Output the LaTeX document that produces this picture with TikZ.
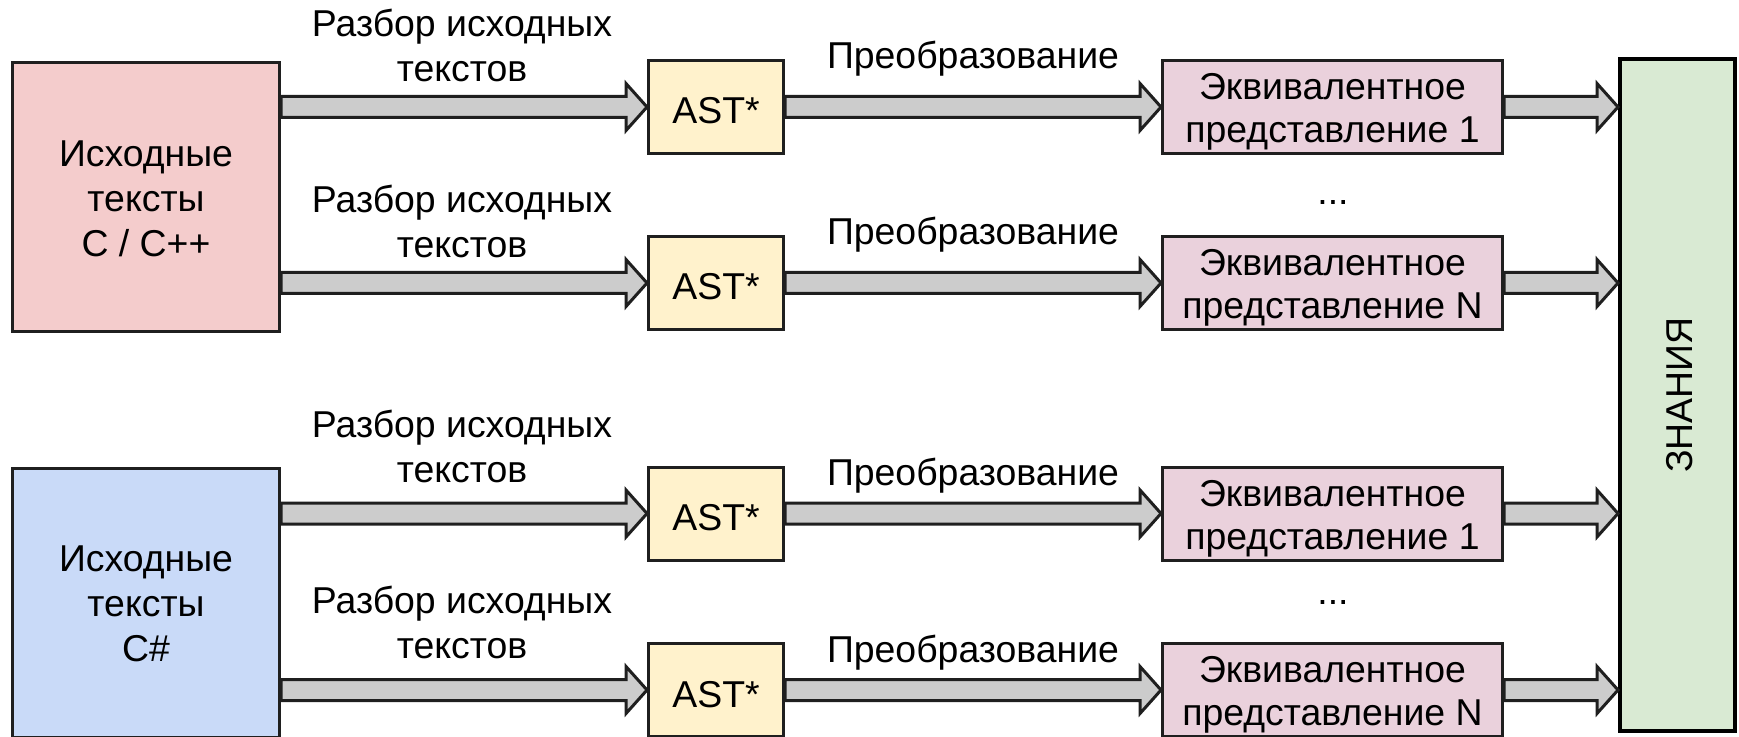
\documentclass[tikz,border=0pt]{standalone}
\usepackage{fontspec}
\setmainfont{Liberation Sans}
\usetikzlibrary{calc}

\definecolor{srcred}{HTML}{F4CCCC}
\definecolor{srcblue}{HTML}{C9DAF8}
\definecolor{astyellow}{HTML}{FFF2CC}
\definecolor{eqpink}{HTML}{EAD1DC}
\definecolor{knowgreen}{HTML}{D9EAD3}
\definecolor{shaftgray}{HTML}{CCCCCC}
\definecolor{edge}{HTML}{1F1F1F}

% block arrow from the east side of #1 to the point #2 (tip), at the height of #2
\newcommand\blockarrow[2]{%
  \path[flow] let \p1=(#1), \p2=(#2) in
    (\x1,\y2+5.25pt) -- (\x2-10.5pt,\y2+5.25pt) -- (\x2-10.5pt,\y2+11.75pt)
    -- (\x2,\y2) -- (\x2-10.5pt,\y2-11.75pt) -- (\x2-10.5pt,\y2-5.25pt)
    -- (\x1,\y2-5.25pt) -- cycle;}

\begin{document}
\begin{tikzpicture}[x=0.5pt,y=-0.5pt,
  every node/.style={font=\fontsize{18.7}{22.5}\selectfont, inner sep=0pt},
  box/.style={draw=edge, line width=1.5pt},
  srcbox/.style={box, minimum width=133.5pt, minimum height=134.5pt},
  astbox/.style={box, fill=astyellow, minimum width=67.5pt, minimum height=46.5pt},
  eqbox/.style={box, fill=eqpink, minimum width=170pt, minimum height=46.5pt},
  kbox/.style={draw=black, line width=2pt, fill=knowgreen,
               minimum width=57.5pt, minimum height=336pt},
  flow/.style={draw=edge, fill=shaftgray, line width=1.5pt, line join=miter},
  lbl/.style={align=center, anchor=base},
  asttxt/.style={anchor=base, yshift=-8.5pt},
  eqtxt/.style={align=center, anchor=base, yshift=-17.75pt,
                font=\fontsize{18.7}{21.35}\selectfont}]

\useasboundingbox (0,0) rectangle (1739,737);

% sources
\node[srcbox, fill=srcred]  (srcC)  at (146,197) {};
\node[srcbox, fill=srcblue] (srcCS) at (146,603) {};
\node[lbl] (srcCtxt)  at (146,256.7) {Исходные\\тексты\\C / C++};
\node[lbl] (srcCStxt) at (146,661.7) {Исходные\\тексты\\C\#};

% abstract syntax trees
\node[astbox] (ast1) at (716,107)   {};
\node[astbox] (ast2) at (716,283)   {};
\node[astbox] (ast3) at (716,513.5) {};
\node[astbox] (ast4) at (716,690)   {};
\node[asttxt] (ast1t) at (ast1.center) {AST*};
\node[asttxt] (ast2t) at (ast2.center) {AST*};
\node[asttxt] (ast3t) at (ast3.center) {AST*};
\node[asttxt] (ast4t) at (ast4.center) {AST*};

% equivalent representations
\node[eqbox] (eq1) at (1332.5,107)   {};
\node[eqbox] (eq2) at (1332.5,283)   {};
\node[eqbox] (eq3) at (1332.5,513.5) {};
\node[eqbox] (eq4) at (1332.5,690)   {};
\node[eqtxt] (eq1t) at (eq1.center) {Эквивалентное\\представление 1};
\node[eqtxt] (eq2t) at (eq2.center) {Эквивалентное\\представление N};
\node[eqtxt] (eq3t) at (eq3.center) {Эквивалентное\\представление 1};
\node[eqtxt] (eq4t) at (eq4.center) {Эквивалентное\\представление N};

% knowledge
\node[kbox] (know) at (1677.5,395) {};
\node[rotate=90] (knowlbl) at ([xshift=1pt]know.center) {ЗНАНИЯ};

% parsing arrows
\blockarrow{srcC.east}{ast1.west}
\blockarrow{srcC.east}{ast2.west}
\blockarrow{srcCS.east}{ast3.west}
\blockarrow{srcCS.east}{ast4.west}

% transformation arrows
\blockarrow{ast1.east}{eq1.west}
\blockarrow{ast2.east}{eq2.west}
\blockarrow{ast3.east}{eq3.west}
\blockarrow{ast4.east}{eq4.west}

% into knowledge
\blockarrow{eq1.east}{know.west |- eq1.east}
\blockarrow{eq2.east}{know.west |- eq2.east}
\blockarrow{eq3.east}{know.west |- eq3.east}
\blockarrow{eq4.east}{know.west |- eq4.east}

% labels (base = baseline of the last line)
\node[lbl] (parse1) at (462,82)  {Разбор исходных\\текстов};
\node[lbl] (parse2) at (462,258) {Разбор исходных\\текстов};
\node[lbl] (parse3) at (462,482) {Разбор исходных\\текстов};
\node[lbl] (parse4) at (462,658) {Разбор исходных\\текстов};

\node[lbl] (conv1) at (973,69)  {Преобразование};
\node[lbl] (conv2) at (973,245) {Преобразование};
\node[lbl] (conv3) at (973,485) {Преобразование};
\node[lbl] (conv4) at (973,662) {Преобразование};

\node[lbl] (dots1) at (1333,205) {...};
\node[lbl] (dots2) at (1333,604) {...};
\end{tikzpicture}
\end{document}
